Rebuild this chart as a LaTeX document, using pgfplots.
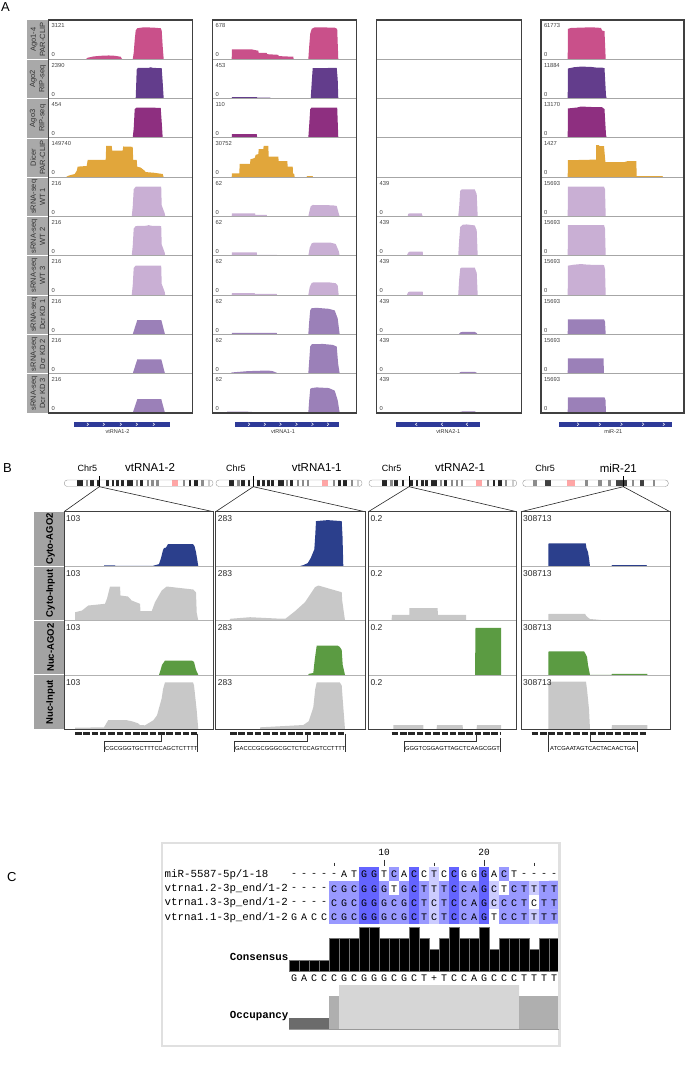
\documentclass[border=0pt]{standalone}
\usepackage{pgfplots}
\pgfplotsset{compat=1.18}
\usepackage{graphicx}
\usepackage{fontspec}
\setmainfont{Liberation Sans}
\newfontfamily\mono{Liberation Mono}
\newcommand{\fs}[1]{\fontsize{#1}{#1}\selectfont}
\definecolor{ago14}{HTML}{C9508A}
\definecolor{ago2}{HTML}{633D8C}
\definecolor{ago3}{HTML}{8E2F80}
\definecolor{dicer}{HTML}{E1A63B}
\definecolor{wt}{HTML}{C9AFD4}
\definecolor{kd}{HTML}{9B80B8}
\definecolor{navy}{HTML}{2B3F8C}
\definecolor{grn}{HTML}{5B9B42}
\definecolor{inp}{HTML}{C8C8C8}
\definecolor{gene}{HTML}{2E3A98}
\definecolor{stripA}{HTML}{A9A9A9}
\definecolor{stripB}{HTML}{A3A3A3}
\definecolor{occa}{HTML}{6B6B6B}
\definecolor{occb}{HTML}{AFAFAF}
\definecolor{occc}{HTML}{D6D6D6}
\pgfplotsset{
 trk/.style={scale only axis, hide axis, xmin=0, ymin=0, anchor=north west},
 trkA/.style={trk, height=39.3pt, ymax=1.228},
 trkB/.style={trk, height=54.4pt, ymax=54.4},
}
\newcommand{\TA}[5]{\begin{axis}[trkA,at={(#1pt,-#2pt)},width=#3pt,xmax=#3]\addplot[fill=#4,draw=none] coordinates {#5}\closedcycle;\end{axis}}
\newcommand{\TB}[5]{\begin{axis}[trkB,at={(#1pt,-#2pt)},width=#3pt,xmax=#3]\addplot[fill=#4,draw=none] coordinates {#5}\closedcycle;\end{axis}}
\newcommand{\chrom}[3]{%
 \foreach \a/\b/\c in #3 {\fill[\c] ({#1+\a*(#2-#1)},480.3) rectangle ({#1+\b*(#2-#1)},486.2);}
 \draw[black!40, line width=0.4pt, rounded corners=3pt] (#1,480) rectangle (#2,486.5);}
\def\chrfive{0.087/0.125/black!85, 0.145/0.161/black!45, 0.172/0.199/black!85, 0.221/0.235/black!85, 0.280/0.298/black!85, 0.318/0.333/black!85, 0.351/0.369/black!85, 0.378/0.400/black!85, 0.423/0.463/black!85, 0.481/0.494/black!45, 0.508/0.530/black!85, 0.553/0.570/black!45, 0.586/0.602/black!45, 0.620/0.638/black!45, 0.727/0.765/red!35, 0.799/0.812/black!45, 0.837/0.855/black!85, 0.872/0.899/black!85, 0.922/0.937/black!45, 0.966/0.982/black!20}
\def\chrsev{0.07/0.10/black!45, 0.153/0.192/black!75, 0.302/0.359/red!35, 0.428/0.451/black!45, 0.519/0.542/black!45, 0.588/0.604/black!45, 0.64/0.714/black!75, 0.748/0.764/black!45, 0.805/0.833/black!75, 0.897/0.908/black!45}
\begin{document}
\begin{tikzpicture}
\path[use as bounding box] (0,0) rectangle (686pt,-1066pt);
% ================= PANEL A =================
% column 1
\TA{48.7}{20}{144}{ago14}{(37,0)(39,0.05)(45,0.09)(52,0.11)(60,0.12)(66,0.11)(72,0.08)(73.5,0)(84,0)(85,0.2)(86,0.6)(87,0.9)(88.5,0.97)(95,1)(105,0.99)(112,0.97)(113,0.9)(114,0.4)(115,0)}
\TA{48.7}{59.3}{144}{ago2}{(87,0)(88,0.9)(89,0.96)(100,0.96)(102,0.98)(104,0.96)(113,0.95)(114,0.5)(115,0)}
\TA{48.7}{98.6}{144}{ago3}{(84,0)(85,0.3)(86,0.9)(88,0.95)(112,0.94)(113,0.5)(114,0)}
\TA{48.7}{137.9}{144}{dicer}{(17,0)(20,0.05)(26,0.1)(28,0.2)(29,0.33)(38,0.35)(39,0.54)(57,0.54)(57.5,0.98)(63,0.98)(63.5,0.83)(74,0.83)(74.5,0.96)(84,0.95)(84.5,0.54)(88,0.54)(88.5,0.33)(92,0.3)(96,0.2)(97,0.16)(105,0.14)(114,0.1)(115,0)}
\TA{48.7}{177.2}{144}{wt}{(83,0)(84,0.3)(85,0.85)(87,0.93)(112.5,0.93)(113,0.35)(116,0.1)(116.5,0)}
\TA{48.7}{216.5}{144}{wt}{(83,0)(84,0.3)(85,0.85)(87,0.93)(98,0.94)(100,0.96)(102,0.94)(112.5,0.93)(113,0.35)(116,0.1)(116.5,0)}
\TA{48.7}{255.8}{144}{wt}{(83,0)(84,0.3)(85,0.85)(87,0.92)(112.5,0.92)(113,0.35)(116,0.1)(116.5,0)}
\TA{48.7}{295.1}{144}{kd}{(84,0)(88.6,0.45)(112.6,0.45)(116.3,0)}
\TA{48.7}{334.4}{144}{kd}{(84,0)(88.6,0.45)(112.6,0.45)(116.3,0)}
\TA{48.7}{373.7}{144}{kd}{(84,0)(88.6,0.43)(112.6,0.43)(116.3,0)}
% column 2
\TA{212.7}{20}{144}{ago14}{(19,0)(19.2,0.31)(39,0.31)(42,0.29)(45.6,0.27)(46,0.2)(54,0.2)(54.5,0.16)(65.6,0.14)(66,0.1)(80.6,0.08)(81,0)(95.6,0)(96.5,0.4)(97.5,0.8)(99,0.95)(102,1)(122,0.99)(124.5,0.95)(125.6,0)}
\TA{212.7}{59.3}{144}{ago2}{(19,0)(19.2,0.05)(44,0.05)(44.5,0.03)(57.6,0.03)(58,0)(98,0)(99,0.5)(100,0.95)(124,0.96)(125,0.6)(125.6,0)}
\TA{212.7}{98.6}{144}{ago3}{(19,0)(19.2,0.12)(44,0.12)(44.5,0)(95.6,0)(96.5,0.4)(97.5,0.9)(99,0.95)(124.5,0.95)(125.6,0)}
\TA{212.7}{137.9}{144}{dicer}{(19,0)(19.2,0.12)(26.6,0.12)(27,0.42)(37.3,0.42)(37.8,0.56)(42,0.6)(43,0.7)(45.6,0.72)(46,0.88)(50.6,0.88)(51,0.98)(55.6,0.98)(56,0.64)(65.6,0.64)(66,0.5)(74.6,0.5)(75,0.33)(80,0.33)(80.3,0.12)(81.5,0.1)(82,0)(94,0)(94.2,0.03)(100,0.03)(100.2,0)}
\TA{212.7}{177.2}{144}{wt}{(19,0)(19.2,0.1)(42.3,0.1)(42.6,0.05)(54,0.05)(54.3,0)(95.6,0)(97,0.2)(98,0.32)(100,0.36)(120,0.35)(124,0.33)(126,0.1)(127,0)}
\TA{212.7}{216.5}{144}{wt}{(19,0)(19.2,0.11)(44,0.11)(44.3,0.03)(64,0.03)(64.3,0)(95.6,0)(97,0.25)(99,0.39)(101,0.41)(118,0.41)(123,0.37)(126,0.15)(127,0)}
\TA{212.7}{255.8}{144}{wt}{(19,0)(19.2,0.06)(42,0.06)(42.3,0.04)(64,0.04)(64.3,0)(95.6,0)(97,0.25)(99,0.38)(101,0.4)(116,0.4)(123,0.37)(125,0.3)(126,0)}
\TA{212.7}{295.1}{144}{kd}{(19,0)(19.2,0.05)(64,0.05)(64.3,0)(95.6,0)(96.5,0.4)(97.5,0.75)(99,0.82)(104,0.83)(116,0.8)(122,0.75)(125,0.5)(127,0)}
\TA{212.7}{334.4}{144}{kd}{(17,0)(19.2,0.04)(35,0.08)(55,0.1)(60,0.08)(64,0.03)(64.3,0)(95.6,0)(96.5,0.4)(97.5,0.85)(99,0.92)(110,0.93)(120,0.9)(124,0.85)(125.5,0.3)(127,0)}
\TA{212.7}{373.7}{144}{kd}{(14,0)(14.5,0.04)(35,0.04)(40,0.03)(45,0.02)(45.3,0)(95.6,0)(96.5,0.4)(97.5,0.75)(99,0.78)(104,0.8)(116,0.78)(122,0.7)(125,0.4)(127,0)}
% column 3
\TA{376.7}{177.2}{145}{wt}{(31,0)(31.5,0.08)(33,0.1)(45,0.1)(46,0)(81.5,0)(82.5,0.3)(83.5,0.8)(85,0.85)(98,0.85)(100,0.7)(101,0)}
\TA{376.7}{216.5}{145}{wt}{(30,0)(31.5,0.1)(33,0.13)(46,0.13)(46.3,0)(81.5,0)(82.5,0.5)(83.5,0.9)(86,0.97)(90,0.98)(98,0.95)(100,0.8)(101,0)}
\TA{376.7}{255.8}{145}{wt}{(30,0)(31.5,0.09)(33,0.11)(46,0.11)(46.3,0)(81.5,0)(82.5,0.5)(83.5,0.83)(85,0.86)(98,0.86)(100,0.7)(101,0)}
\TA{376.7}{295.1}{145}{kd}{(82,0)(83.5,0.06)(86,0.08)(98,0.08)(100,0.04)(101,0)}
\TA{376.7}{334.4}{145}{kd}{(82,0)(83.5,0.05)(86,0.06)(98,0.06)(100,0.03)(101,0)}
\TA{376.7}{373.7}{145}{kd}{(82.5,0)(84,0.04)(86,0.05)(98,0.05)(100,0.02)(101,0)}
% column 4
\TA{541}{20}{143}{ago14}{(26.7,0)(26.9,0.95)(30,0.98)(50,1)(56,0.99)(60,0.98)(61,0.9)(63.5,0.88)(64.3,0.3)(64.7,0)}
\TA{541}{59.3}{143}{ago2}{(26.7,0)(26.9,0.94)(33,0.98)(40,1)(50,0.99)(55,0.97)(61,0.97)(63.5,0.95)(65,0.1)(65.7,0)}
\TA{541}{98.6}{143}{ago3}{(26.7,0)(26.9,0.92)(36,0.95)(40,0.98)(47,0.97)(55,0.96)(61,0.96)(63.5,0.9)(65,0.1)(65.7,0)}
\TA{541}{137.9}{143}{dicer}{(26.7,0)(26.9,0.53)(55,0.55)(55.2,1)(58,1)(58.3,0.97)(63,0.97)(64.4,0.47)(83,0.47)(86.3,0.5)(95.3,0.5)(95.7,0.03)(121.7,0.03)(121.8,0)}
\TA{541}{177.2}{143}{wt}{(26.7,0)(26.9,0.93)(63,0.93)(64,0.85)(64.7,0)}
\TA{541}{216.5}{143}{wt}{(26.7,0)(26.9,0.96)(63,0.96)(64,0.85)(64.7,0)}
\TA{541}{255.8}{143}{wt}{(26.7,0)(26.9,0.92)(33,0.95)(40,0.97)(47,0.95)(63,0.94)(64,0.8)(64.7,0)}
\TA{541}{295.1}{143}{kd}{(26.7,0)(26.9,0.47)(63,0.47)(64,0.4)(64.7,0)}
\TA{541}{334.4}{143}{kd}{(26.7,0)(26.9,0.48)(62.5,0.48)(63,0)}
\TA{541}{373.7}{143}{kd}{(26.7,0)(26.9,0.49)(63.5,0.49)(64.5,0.4)(65,0)}
% ================= PANEL B =================
% col 1
\TB{64}{511.7}{149.3}{navy}{(40,0)(40.2,0.8)(51,0.8)(51.2,0.3)(89,0.3)(95,2)(97,8)(99,16)(100,18)(102,18.5)(104,22)(129,22)(130.5,20)(132,14)(134.3,0)}
\TB{64}{566.1}{149.3}{inp}{(11,0)(11.2,8.3)(18,10)(24.3,15)(41,16.7)(43,22)(46,34)(56,34)(56.5,25)(64,24)(67.7,20)(76,16.7)(76.5,9.3)(87.7,9.3)(91,18.3)(97.7,30)(102.7,34)(129.3,31)(132,28)(132.7,8)(134.3,0)}
\TB{64}{620.5}{149.3}{grn}{(95,0)(96,3)(98,10)(101,14.3)(128,14.3)(130,13)(132,5)(134.3,0)}
\TB{64}{674.9}{149.3}{inp}{(11,0)(11.2,1.6)(40,2)(44.3,9.3)(62,9.3)(68,8)(74,6)(76,4.3)(81,4)(89.3,9)(93,14)(97.7,31)(99,40)(101,47)(129,47)(130,44)(132.7,19)(134.3,0)}
% col 2
\TB{215.7}{511.7}{149.3}{navy}{(84,0)(87.6,1)(92,3)(95,8)(98.6,16.7)(99.5,30)(100.3,45)(112,46)(126,45)(126.8,30)(127.6,0)}
\TB{215.7}{566.1}{149.3}{inp}{(14,0)(14.3,1.7)(34.3,3.3)(61,2)(70,2)(79.3,9.3)(89.3,18.3)(99.3,33.3)(102.6,35)(126,28.3)(126.5,20)(129.3,0)}
\TB{215.7}{620.5}{149.3}{grn}{(92.6,0)(93,1)(97.6,2)(99,15)(101,29.3)(122,29.3)(124,28)(126,25)(127,10)(129.3,0)}
\TB{215.7}{674.9}{149.3}{inp}{(44.3,0)(44.5,2)(87.6,4.3)(93,8)(97.6,22)(99.5,40)(101,47)(124,47)(126,44)(127,30)(129.3,0)}
% col 3
\TB{368.3}{566.1}{148.4}{inp}{(23.4,0)(23.5,5.7)(41,5.7)(41.1,12.3)(69.4,12.3)(69.5,5.7)(97.7,5.7)(97.8,0)}
\TB{368.3}{620.5}{148.4}{grn}{(106.7,0)(106.8,8)(107.2,47)(132.7,47)(132.8,0)}
\TB{368.3}{674.9}{148.4}{inp}{(25,0)(25.1,4.3)(55,4.3)(55.1,0)(68.4,0)(68.5,4.3)(94.4,4.3)(94.5,0)(108.4,0)(108.5,4.3)(132.7,4.3)(132.8,0)}
% col 4
\TB{521}{511.7}{149}{navy}{(27.3,0)(27.5,22.7)(64.7,22.7)(65.5,18)(67,14)(68,8)(69,0)(90.7,0)(90.8,1)(125.7,1)(125.8,0)}
\TB{521}{566.1}{149}{inp}{(27.3,0)(27.5,6.7)(64,6.7)(65,5)(67,3)(69,1.5)(75,1)(80,0.5)(90,0.3)(120,0.3)(120.2,0)}
\TB{521}{620.5}{149}{grn}{(27.3,0)(27.5,23.6)(63,23.6)(64,22)(66,18)(67,10)(69,0)(90.7,0)(90.8,1)(126.3,1)(126.4,0)}
\TB{521}{674.9}{149}{inp}{(27.3,0)(27.5,47.6)(65,47.6)(66,40)(67,30)(68,20)(69,0)(90.7,0)(90.8,4.3)(126.3,4.3)(126.4,0)}
% ================= PANEL C axes =================
\begin{axis}[scale only axis, hide axis, anchor=north west, at={(289pt,-866.7pt)}, width=270pt, height=57pt,
  xmin=-0.5, xmax=26.5, ymin=-0.5, ymax=3.5, y dir=reverse,
  colormap={jal}{rgb255=(255,255,255) rgb255=(204,204,255) rgb255=(153,153,255) rgb255=(100,100,255)},
  point meta min=0, point meta max=3]
\addplot[matrix plot*, mesh/cols=27, point meta=explicit] coordinates {
(0,0)[0] (1,0)[0] (2,0)[0] (3,0)[0] (4,0)[0] (5,0)[0] (6,0)[0] (7,0)[3] (8,0)[3] (9,0)[0] (10,0)[2] (11,0)[0] (12,0)[3] (13,0)[0] (14,0)[1] (15,0)[0] (16,0)[3] (17,0)[0] (18,0)[0] (19,0)[3] (20,0)[0] (21,0)[2] (22,0)[0] (23,0)[0] (24,0)[0] (25,0)[0] (26,0)[0]
(0,1)[0] (1,1)[0] (2,1)[0] (3,1)[0] (4,1)[2] (5,1)[2] (6,1)[2] (7,1)[3] (8,1)[3] (9,1)[2] (10,1)[0] (11,1)[2] (12,1)[3] (13,1)[2] (14,1)[1] (15,1)[2] (16,1)[3] (17,1)[2] (18,1)[2] (19,1)[3] (20,1)[1] (21,1)[0] (22,1)[2] (23,1)[2] (24,1)[1] (25,1)[2] (26,1)[2]
(0,2)[0] (1,2)[0] (2,2)[0] (3,2)[0] (4,2)[2] (5,2)[2] (6,2)[2] (7,2)[3] (8,2)[3] (9,2)[2] (10,2)[2] (11,2)[2] (12,2)[3] (13,2)[2] (14,2)[1] (15,2)[2] (16,2)[3] (17,2)[2] (18,2)[2] (19,2)[3] (20,2)[1] (21,2)[2] (22,2)[2] (23,2)[2] (24,2)[0] (25,2)[2] (26,2)[2]
(0,3)[0] (1,3)[0] (2,3)[0] (3,3)[0] (4,3)[2] (5,3)[2] (6,3)[2] (7,3)[3] (8,3)[3] (9,3)[2] (10,3)[2] (11,3)[2] (12,3)[3] (13,3)[2] (14,3)[1] (15,3)[2] (16,3)[3] (17,3)[2] (18,3)[2] (19,3)[3] (20,3)[0] (21,3)[2] (22,3)[2] (23,3)[2] (24,3)[1] (25,3)[2] (26,3)[2]
};
\end{axis}
\begin{axis}[trk, at={(289pt,-927pt)}, width=270pt, height=44pt, xmin=0, xmax=27, ymax=100]
\addplot[ybar interval, fill=black, draw=black!55, line width=0.25pt] coordinates {(0,25)(1,25)(2,25)(3,25)(4,75)(5,75)(6,75)(7,100)(8,100)(9,75)(10,75)(11,75)(12,100)(13,75)(14,50)(15,75)(16,100)(17,75)(18,75)(19,100)(20,50)(21,75)(22,75)(23,75)(24,50)(25,75)(26,75)(27,75)};
\end{axis}
\begin{axis}[trk, at={(289pt,-985pt)}, width=270pt, height=44pt, xmin=0, xmax=27, ymax=4]
\addplot[const plot, fill=occa, draw=none] coordinates {(0,1)(4,1)} \closedcycle;
\addplot[const plot, fill=occb, draw=none] coordinates {(4,3)(5,3)} \closedcycle;
\addplot[const plot, fill=occc, draw=none] coordinates {(5,4)(23,4)} \closedcycle;
\addplot[const plot, fill=occb, draw=none] coordinates {(23,3)(27,3)} \closedcycle;
\end{axis}
% ================= decorations =================
\begin{scope}[x=1pt,y=-1pt]
% panel letters
\node[anchor=north west, inner sep=0, font=\fs{13}] at (1,2) {A};
\node[anchor=west, inner sep=0, font=\fs{13}] at (3,468) {B};
\node[anchor=west, inner sep=0, font=\fs{13}] at (7,877) {C};
% --- A strip
\fill[stripA] (26.7,20) rectangle (48.7,413);
\foreach \r in {59.3,98.6,137.9,177.2,216.5,255.8,295.1,334.4,373.7} \draw[white, line width=0.8pt] (26.7,\r) -- (48.7,\r);
\foreach \a/\b [count=\i from 0] in {Ago1-4/PAR-CLIP, Ago2/RIP-seq, Ago3/RIP-seq, Dicer/PAR-CLIP, sRNA-seq/WT 1, sRNA-seq/WT 2, sRNA-seq/WT 3, sRNA-seq/Dcr KD 1, sRNA-seq/Dcr KD 2, sRNA-seq/Dcr KD 3}
  \node[rotate=90, align=center, font=\fontsize{7.5}{9.2}\selectfont, text=black!80, inner sep=0] at (37.9, 39.65+39.3*\i) {\a\\\b};
% --- A frames
\foreach \x/\w in {48.7/144, 212.7/144, 376.7/145, 541/143} {
  \foreach \r in {59.3,98.6,137.9,177.2,216.5,255.8,295.1,334.4,373.7} \draw[black!35, line width=0.9pt] (\x,\r) -- (\x+\w,\r);
  \draw[black!75, line width=1.1pt] (\x,20) rectangle (\x+\w,413);
}
% --- A scale labels
\foreach \v [count=\i from 0] in {3121,2390,454,149740,216,216,216,216,216,216} {
  \node[anchor=west, font=\fs{5.8}, text=black!75, inner sep=0] at (51.5, 26+39.3*\i) {\v};
  \node[anchor=west, font=\fs{5.8}, text=black!75, inner sep=0] at (51.5, 55+39.3*\i) {0};}
\foreach \v [count=\i from 0] in {678,453,110,30752,62,62,62,62,62,62} {
  \node[anchor=west, font=\fs{5.8}, text=black!75, inner sep=0] at (215.5, 26+39.3*\i) {\v};
  \node[anchor=west, font=\fs{5.8}, text=black!75, inner sep=0] at (215.5, 55+39.3*\i) {0};}
\foreach \i in {4,...,9} {
  \node[anchor=west, font=\fs{5.8}, text=black!75, inner sep=0] at (379.5, 26+39.3*\i) {439};
  \node[anchor=west, font=\fs{5.8}, text=black!75, inner sep=0] at (379.5, 55+39.3*\i) {0};}
\foreach \v [count=\i from 0] in {61773,11884,13170,1427,15693,15693,15693,15693,15693,15693} {
  \node[anchor=west, font=\fs{5.8}, text=black!75, inner sep=0] at (543.8, 26+39.3*\i) {\v};
  \node[anchor=west, font=\fs{5.8}, text=black!75, inner sep=0] at (543.8, 55+39.3*\i) {0};}
% --- A gene tracks
\fill[gene] (74,422) rectangle (170,426.5);
\fill[gene] (235,422) rectangle (339,426.5);
\fill[gene] (396,422) rectangle (480,426.5);
\fill[gene] (559,422) rectangle (672,426.5);
\foreach \p in {88,104,121,137,154,249.3,265,280.7,296.7,312.7,328.3,578.3,600,621.7,643.3,664}
  \draw[white, line width=0.45pt] (\p-1.2,422.7) -- (\p+0.6,424.25) -- (\p-1.2,425.8);
\foreach \p in {416,441.7,466.7}
  \draw[white, line width=0.45pt] (\p+1.2,422.7) -- (\p-0.6,424.25) -- (\p+1.2,425.8);
\foreach \x/\t in {117.5/vtRNA1-2, 283/vtRNA1-1, 448.3/vtRNA2-1, 613.3/miR-21}
  \node[font=\fs{5.5}, text=black!80, inner sep=0] at (\x,431.5) {\t};
% ================= PANEL B decorations =================
\foreach \x in {87.3, 236, 391.7, 545} \node[font=\fs{9}, inner sep=0] at (\x,468) {Chr5};
\foreach \x/\t in {150/vtRNA1-2, 316.7/vtRNA1-1, 460/vtRNA2-1, 618.3/miR-21} \node[font=\fs{11.5}, inner sep=0] at (\x,468) {\t};
\chrom{64.3}{213}{\chrfive}
\chrom{216}{362}{\chrfive}
\chrom{369}{516.7}{\chrfive}
\chrom{522.7}{668.3}{\chrsev}
\foreach \m/\l/\r in {99.3/64/213.3, 253.3/215.7/365, 409/368.3/516.7, 623.3/521/670} {
  \draw[black, line width=0.7pt] (\m,476) -- (\m,486.7);
  \draw[black!85, line width=0.6pt] (\l,511.7) -- (\m,486.7) -- (\r,511.7);
}
% B strip
\fill[stripB] (34,511.7) rectangle (64,729.3);
\foreach \r in {566.1,620.5,674.9} \draw[white, line width=1pt] (34,\r) -- (64,\r);
\foreach \t [count=\i from 0] in {Cyto-AGO2, Cyto-Input, Nuc-AGO2, Nuc-Input}
  \node[rotate=90, font=\bfseries\fs{9.5}, inner sep=0] at (50.5, 538.9+54.4*\i) {\t};
% B frames
\foreach \x/\w in {64/149.3, 215.7/149.3, 368.3/148.4, 521/149} {
  \foreach \r in {566.1,620.5,674.9} \draw[black!30, line width=0.8pt] (\x,\r) -- (\x+\w,\r);
  \draw[black!75, line width=0.8pt] (\x,511.7) rectangle (\x+\w,729.3);
}
\foreach \x/\v in {64/103, 215.7/283, 368.3/0.2, 521/308713}
  \foreach \i in {0,...,3} \node[anchor=west, font=\fs{8.5}, text=black!85, inner sep=0] at (\x+2, 519+54.4*\i) {\v};
% B sequence tracks
\foreach \a/\b in {75/196.7, 230/345, 391.7/501, 531.7/646}
  \draw[black!85, line width=3.3pt, dash pattern=on 6.5pt off 1.8pt] (\a,733.7) -- (\b,733.7);
\draw[black!80, line width=0.5pt] (161.7,733.7) -- (161.7,741.7) -- (104.3,741.7) -- (104.3,751.7);
\draw[black!80, line width=0.5pt] (197.3,733.7) -- (197.3,751.7);
\draw[black!80, line width=0.5pt] (307.7,733.7) -- (307.7,741.7) -- (234,741.7) -- (234,751.7);
\draw[black!80, line width=0.5pt] (345,733.7) -- (345,751.7);
\draw[black!80, line width=0.5pt] (476,733.7) -- (476,741.7) -- (404.3,741.7) -- (404.3,751.7);
\draw[black!80, line width=0.5pt] (500.7,738) -- (500.7,751.7);
\draw[black!80, line width=0.5pt] (548.3,733.7) -- (548.3,751.7);
\draw[black!80, line width=0.5pt] (590,733.7) -- (590,741.7) -- (637.3,741.7) -- (637.3,751.7);
\node[anchor=west, inner sep=0, font=\fs{5.8}] at (105,748.5) {CGCGGGTGCTTTCCAGCTCTTTT};
\node[anchor=west, inner sep=0, font=\fs{5.8}] at (235,748.5) {GACCCGCGGGCGCTCTCCAGTCCTTTT};
\node[anchor=west, inner sep=0, font=\fs{5.8}] at (405,748.5) {GGGTCGGAGTTAGCTCAAGCGGT};
\node[anchor=west, inner sep=0, font=\fs{5.8}] at (550,748.5) {ATCGAATAGTCACTACAACTGA};
% ================= PANEL C decorations =================
\draw[black!12, line width=2.5pt] (162,843) rectangle (559.5,1046);
\foreach \j in {4,14,24} \draw[black!80, line width=0.5pt] (294+10*\j,862.5) -- (294+10*\j,866);
\foreach \j in {9,19} \draw[black!80, line width=0.5pt] (294+10*\j,859.5) -- (294+10*\j,866);
\node[font=\mono\fs{9.5}, inner sep=0] at (384,852) {10};
\node[font=\mono\fs{9.5}, inner sep=0] at (484,852) {20};
\foreach \n [count=\k from 0] in {miR-5587-5p/1-18, vtrna1.2-3p\_end/1-2, vtrna1.3-3p\_end/1-2, vtrna1.1-3p\_end/1-2}
  \node[anchor=west, font=\mono\fs{10.8}, inner sep=0] at (164.5, 874.5+14.25*\k) {\n};
\foreach \c [count=\j from 0] in {-,-,-,-,-,A,T,G,G,T,C,A,C,C,T,C,C,G,G,G,A,C,T,-,-,-,-}
  \node[font=\mono\fs{10}, inner sep=0] at (294+10*\j, 874.5) {\c};
\foreach \c [count=\j from 0] in {-,-,-,-,C,G,C,G,G,G,T,G,C,T,T,T,C,C,A,G,C,T,C,T,T,T,T}
  \node[font=\mono\fs{10}, inner sep=0] at (294+10*\j, 888.75) {\c};
\foreach \c [count=\j from 0] in {-,-,-,-,C,G,C,G,G,G,C,G,C,T,C,T,C,C,A,G,C,C,C,T,C,T,T}
  \node[font=\mono\fs{10}, inner sep=0] at (294+10*\j, 903) {\c};
\foreach \c [count=\j from 0] in {G,A,C,C,C,G,C,G,G,G,C,G,C,T,C,T,C,C,A,G,T,C,C,T,T,T,T}
  \node[font=\mono\fs{10}, inner sep=0] at (294+10*\j, 917.25) {\c};
\foreach \c [count=\j from 0] in {G,A,C,C,C,G,C,G,G,G,C,G,C,T,+,T,C,C,A,G,C,C,C,T,T,T,T}
  \node[font=\mono\fs{10}, inner sep=0] at (294+10*\j, 978.5) {\c};
\node[anchor=east, font=\mono\bfseries\fs{10.8}, inner sep=0] at (288.5,957) {Consensus};
\node[anchor=east, font=\mono\bfseries\fs{10.8}, inner sep=0] at (288.5,1015.5) {Occupancy};
\draw[black!40, line width=1.2pt] (289,1029.3) -- (559,1029.3);
\end{scope}
\end{tikzpicture}
\end{document}
